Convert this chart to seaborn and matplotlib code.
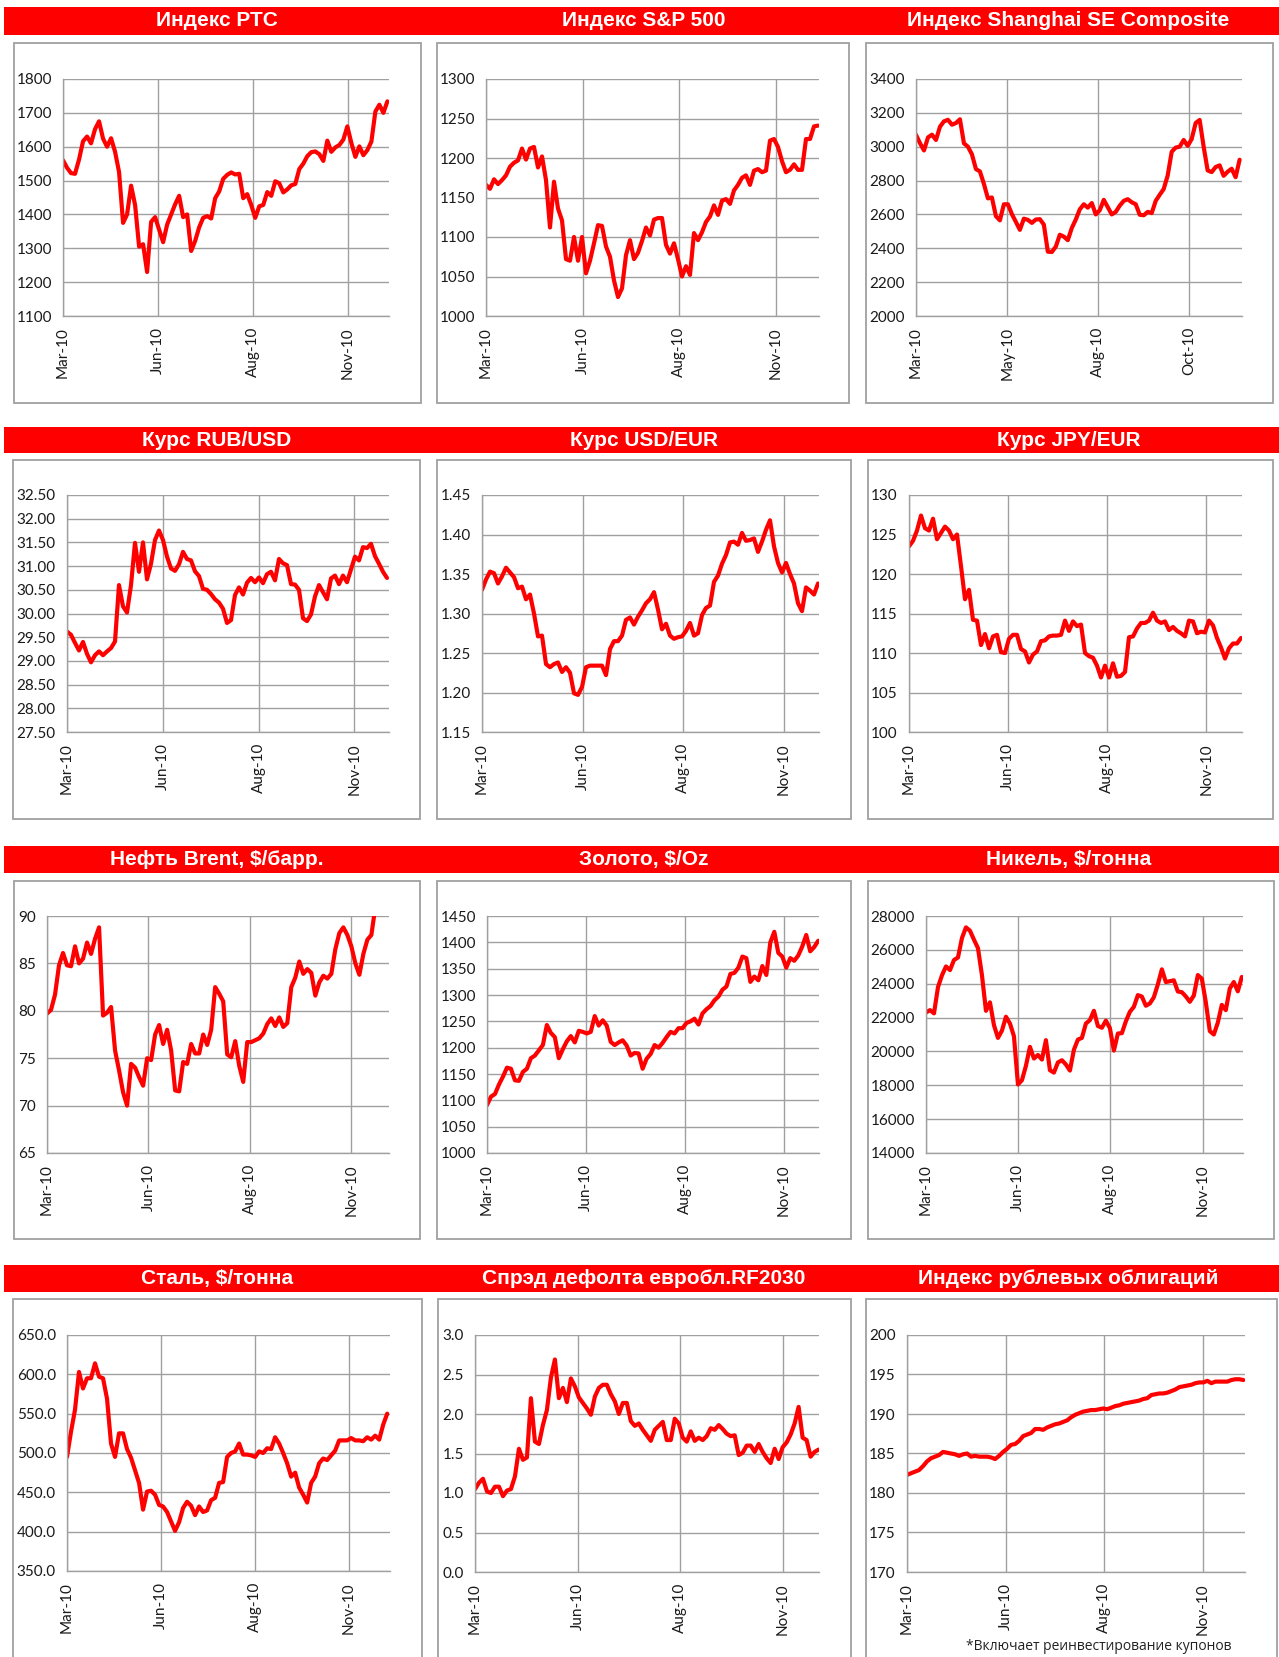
import numpy as np
import matplotlib
matplotlib.use('Agg')
import matplotlib.pyplot as plt
from matplotlib.patches import Rectangle
import seaborn as sns

rts = [1560, 1538, 1522, 1520, 1562, 1616, 1630, 1610, 1652, 1675,
       1624, 1600, 1625, 1585, 1525, 1375, 1400, 1485, 1428, 1305,
       1312, 1230, 1378, 1392, 1355, 1318, 1370, 1400, 1430, 1455,
       1392, 1400, 1292, 1322, 1362, 1390, 1395, 1388, 1448, 1468,
       1505, 1517, 1524, 1518, 1520, 1448, 1460, 1428, 1390, 1424,
       1428, 1466, 1455, 1498, 1492, 1465, 1474, 1486, 1490, 1534,
       1550, 1572, 1584, 1586, 1578, 1558, 1618, 1585, 1598, 1605,
       1621, 1660, 1611, 1570, 1601, 1575, 1590, 1615, 1704, 1724,
       1700, 1734]

sp500 = [1166, 1161, 1173, 1167, 1172, 1178, 1189, 1194, 1197, 1212,
         1198, 1212, 1214, 1188, 1202, 1172, 1112, 1170, 1136, 1121,
         1072, 1070, 1100, 1070, 1100, 1054, 1070, 1092, 1115, 1114,
         1088, 1075, 1045, 1024, 1035, 1077, 1096, 1072, 1080, 1095,
         1112, 1102, 1122, 1124, 1124, 1090, 1079, 1092, 1072, 1050,
         1063, 1052, 1105, 1096, 1106, 1119, 1126, 1140, 1128, 1146,
         1148, 1142, 1159, 1166, 1175, 1178, 1166, 1184, 1186, 1182,
         1184, 1222, 1224, 1214, 1196, 1182, 1185, 1192, 1185, 1185,
         1224, 1224, 1240, 1241]

shanghai = [3070, 3021, 2978, 3055, 3071, 3040, 3118, 3150, 3159, 3130,
            3140, 3162, 3020, 3000, 2955, 2868, 2854, 2780, 2695, 2700,
            2590, 2565, 2660, 2660, 2602, 2556, 2509, 2575, 2568, 2550,
            2570, 2572, 2540, 2380, 2378, 2410, 2480, 2469, 2448, 2520,
            2570, 2630, 2660, 2640, 2667, 2600, 2625, 2686, 2643, 2600,
            2615, 2652, 2680, 2690, 2672, 2660, 2598, 2595, 2615, 2608,
            2680, 2716, 2750, 2830, 2970, 2995, 3000, 3040, 3005, 3045,
            3140, 3158, 3000, 2860, 2850, 2880, 2890, 2828, 2852, 2870,
            2820, 2923]

rub_usd = [29.62, 29.55, 29.38, 29.22, 29.40, 29.15, 28.97, 29.12, 29.20, 29.12,
           29.20, 29.27, 29.41, 30.60, 30.15, 30.02, 30.60, 31.49, 30.88, 31.50,
           30.72, 31.05, 31.55, 31.75, 31.55, 31.20, 30.95, 30.90, 31.04, 31.30,
           31.15, 31.12, 30.89, 30.79, 30.52, 30.50, 30.41, 30.30, 30.23, 30.10,
           29.80, 29.86, 30.39, 30.55, 30.40, 30.65, 30.75, 30.66, 30.76, 30.64,
           30.83, 30.88, 30.70, 31.15, 31.06, 31.02, 30.62, 30.61, 30.50, 29.90,
           29.84, 29.98, 30.36, 30.60, 30.45, 30.30, 30.74, 30.80, 30.62, 30.80,
           30.66, 30.93, 31.20, 31.12, 31.40, 31.38, 31.47, 31.21, 31.05, 30.88,
           30.75]

usd_eur = [1.330, 1.343, 1.353, 1.351, 1.338, 1.347, 1.358, 1.352, 1.346, 1.332,
           1.334, 1.318, 1.324, 1.300, 1.271, 1.272, 1.236, 1.232, 1.236, 1.238,
           1.226, 1.232, 1.225, 1.199, 1.197, 1.207, 1.232, 1.234, 1.234, 1.234,
           1.234, 1.222, 1.255, 1.265, 1.265, 1.272, 1.292, 1.295, 1.286, 1.296,
           1.304, 1.313, 1.318, 1.327, 1.305, 1.280, 1.287, 1.272, 1.268, 1.270,
           1.271, 1.278, 1.288, 1.272, 1.275, 1.298, 1.307, 1.310, 1.340, 1.348,
           1.363, 1.374, 1.390, 1.391, 1.387, 1.402, 1.392, 1.393, 1.395, 1.378,
           1.391, 1.406, 1.418, 1.385, 1.364, 1.352, 1.364, 1.350, 1.338, 1.313,
           1.303, 1.333, 1.329, 1.324, 1.338]

jpy_eur = [123.5, 124.2, 125.5, 127.4, 125.8, 125.5, 127.0, 124.4, 125.2, 126.0,
           125.5, 124.4, 125.0, 121.0, 116.8, 118.0, 114.2, 114.1, 111.0, 112.4,
           110.6, 112.1, 112.3, 110.1, 110.0, 111.8, 112.3, 112.3, 110.5, 110.2,
           108.8, 109.8, 110.2, 111.5, 111.6, 112.1, 112.2, 112.2, 112.3, 114.1,
           112.8, 114.0, 113.4, 113.6, 110.0, 109.6, 109.4, 108.4, 106.9, 108.4,
           106.9, 108.7, 107.0, 107.1, 107.6, 112.0, 112.1, 113.1, 113.8, 113.8,
           114.1, 115.1, 114.1, 113.8, 114.0, 112.9, 113.3, 112.8, 112.5, 112.1,
           114.1, 114.0, 112.5, 112.7, 112.6, 114.1, 113.5, 111.9, 110.7, 109.3,
           110.6, 111.2, 111.2, 111.9]

brent = [79.7, 80.1, 81.7, 84.8, 86.1, 84.8, 84.7, 86.8, 85.0, 85.5,
         87.2, 86.0, 87.6, 88.8, 79.5, 79.8, 80.4, 75.8, 73.7, 71.4,
         70.0, 74.4, 74.0, 73.0, 72.1, 75.0, 74.8, 77.5, 78.5, 76.5,
         78.0, 75.8, 71.6, 71.5, 74.6, 74.4, 76.5, 75.5, 75.5, 77.5,
         76.4, 78.0, 82.5, 81.8, 81.0, 75.4, 75.1, 76.8, 74.2, 72.5,
         76.7, 76.7, 76.9, 77.1, 77.6, 78.6, 79.2, 78.4, 79.3, 78.3,
         78.7, 82.5, 83.5, 85.2, 83.9, 84.4, 84.0, 81.6, 83.0, 83.7,
         83.4, 83.9, 86.5, 88.2, 88.8, 88.0, 86.8, 85.0, 83.8, 86.0,
         87.5, 88.0, 91.0, 91.5, 92.0, 92.5]

gold = [1091, 1107, 1112, 1130, 1145, 1162, 1160, 1138, 1137, 1154,
        1160, 1180, 1185, 1195, 1205, 1243, 1228, 1220, 1180, 1197,
        1212, 1222, 1210, 1232, 1230, 1227, 1230, 1260, 1242, 1252,
        1242, 1211, 1205, 1210, 1214, 1204, 1185, 1190, 1189, 1160,
        1179, 1188, 1205, 1200, 1209, 1220, 1230, 1227, 1237, 1237,
        1247, 1250, 1255, 1244, 1265, 1273, 1279, 1290, 1297, 1310,
        1316, 1340, 1342, 1352, 1373, 1370, 1325, 1335, 1328, 1355,
        1338, 1400, 1420, 1380, 1373, 1352, 1370, 1365, 1375, 1392,
        1414, 1383, 1391, 1403]

nickel = [22300, 22440, 22250, 23800, 24500, 25020, 24805, 25400, 25550, 26700,
          27330, 27130, 26600, 26100, 24500, 22400, 22900, 21552, 20800, 21230,
          22050, 21650, 20900, 18050, 18300, 19150, 20270, 19580, 19790, 19520,
          20664, 18890, 18750, 19350, 19480, 19230, 18870, 20100, 20700, 20800,
          21650, 21850, 22400, 21500, 21400, 21820, 21380, 20050, 21059, 21080,
          21780, 22340, 22636, 23326, 23240, 22700, 22833, 23200, 23960, 24850,
          24100, 24150, 24200, 23540, 23500, 23250, 22932, 23300, 24510, 24300,
          22900, 21200, 21000, 21700, 22750, 22439, 23720, 24100, 23550, 24400]

steel = [495, 527, 555, 603, 582, 595, 595, 614, 597, 595,
         569, 512, 495, 525, 525, 505, 494, 478, 462, 428,
         451, 452, 447, 434, 432, 425, 413, 401, 412, 430,
         438, 433, 421, 432, 425, 427, 440, 443, 462, 463,
         495, 500, 502, 512, 498, 498, 497, 495, 502, 500,
         506, 505, 520, 512, 500, 487, 470, 475, 456, 447,
         437, 462, 470, 487, 493, 491, 497, 503, 516, 516,
         516, 519, 516, 516, 515, 520, 517, 522, 517, 536,
         550]

spread = [1.05, 1.13, 1.18, 1.02, 1.00, 1.08, 1.08, 0.96, 1.03, 1.05,
          1.21, 1.56, 1.42, 1.45, 2.20, 1.65, 1.62, 1.86, 2.05, 2.46,
          2.69, 2.20, 2.33, 2.15, 2.45, 2.35, 2.21, 2.14, 2.07, 1.99,
          2.22, 2.33, 2.37, 2.37, 2.25, 2.16, 2.00, 2.14, 2.14, 1.91,
          1.85, 1.88, 1.80, 1.73, 1.66, 1.80, 1.85, 1.90, 1.67, 1.67,
          1.94, 1.88, 1.70, 1.65, 1.78, 1.66, 1.70, 1.67, 1.72, 1.82,
          1.80, 1.86, 1.81, 1.75, 1.72, 1.73, 1.48, 1.51, 1.60, 1.60,
          1.52, 1.62, 1.52, 1.44, 1.38, 1.56, 1.43, 1.58, 1.64, 1.74,
          1.88, 2.09, 1.70, 1.67, 1.46, 1.52, 1.55]

bonds = [182.3, 182.5, 182.7, 182.9, 183.4, 184.0, 184.4, 184.6, 184.8, 185.2,
         185.1, 185.0, 184.9, 184.7, 184.9, 185.0, 184.6, 184.7, 184.6, 184.6,
         184.6, 184.5, 184.3, 184.7, 185.2, 185.6, 186.1, 186.2, 186.6, 187.2,
         187.4, 187.6, 188.1, 188.1, 188.0, 188.3, 188.5, 188.7, 188.8, 189.0,
         189.2, 189.6, 189.9, 190.1, 190.3, 190.4, 190.5, 190.5, 190.6, 190.7,
         190.6, 190.8, 191.0, 191.1, 191.3, 191.4, 191.5, 191.6, 191.7, 191.9,
         192.0, 192.4, 192.5, 192.6, 192.6, 192.7, 192.9, 193.1, 193.4, 193.5,
         193.6, 193.7, 193.9, 194.0, 194.0, 194.2, 193.9, 194.1, 194.1, 194.1,
         194.1, 194.3, 194.4, 194.4, 194.3]

months_a = ['Mar-10', 'Jun-10', 'Aug-10', 'Nov-10']
months_b = ['Mar-10', 'May-10', 'Aug-10', 'Oct-10']

# layout in pixels of the 1279x1657 canvas
W, H = 1279, 1657
banner_x = [(4, 430), (430, 858), (858, 1279)]
banner_y = [(7, 35), (427, 453), (846, 873), (1265, 1292)]

panels = [
    # title, data, (ymin, ymax, step), label fmt, points per tick, xmax, labels, plot box, frame box
    ('Индекс РТС', rts, (1100, 1800, 100), '{:.0f}', 23.69, 81.4, months_a,
     (63, 79, 389, 316), (14, 43, 421, 403)),
    ('Индекс S&P 500', sp500, (1000, 1300, 50), '{:.0f}', 24.17, 83.25, months_a,
     (486, 79, 819, 316), (437, 43, 849, 403)),
    ('Индекс Shanghai SE Composite', shanghai, (2000, 3400, 200), '{:.0f}', 22.81, 81.6, months_b,
     (916, 79, 1242, 316), (866, 43, 1273, 403)),
    ('Курс RUB/USD', rub_usd, (27.5, 32.5, 0.5), '{:.2f}', 23.94, 80.5, months_a,
     (67, 495, 389, 732), (13, 460, 420, 819)),
    ('Курс USD/EUR', usd_eur, (1.15, 1.45, 0.05), '{:.2f}', 25.17, 84.25, months_a,
     (482, 495, 819, 732), (437, 460, 851, 819)),
    ('Курс JPY/EUR', jpy_eur, (100, 130, 5), '{:.0f}', 24.78, 83.25, months_a,
     (909, 495, 1242, 732), (868, 460, 1273, 819)),
    ('Нефть Brent, $/барр.', brent, (65, 90, 5), '{:.0f}', 25.33, 85.4, months_a,
     (47, 916, 389, 1153), (14, 881, 420, 1239)),
    ('Золото, $/Oz', gold, (1000, 1450, 50), '{:.0f}', 24.81, 83.2, months_a,
     (487, 916, 819, 1153), (437, 881, 851, 1239)),
    ('Никель, $/тонна', nickel, (14000, 28000, 2000), '{:.0f}', 23.06, 79.3, months_a,
     (926, 916, 1243, 1153), (868, 881, 1274, 1239)),
    ('Сталь, $/тонна', steel, (350, 650, 50), '{:.1f}', 23.47, 80.7, months_a,
     (67, 1335, 390, 1571), (13, 1299, 422, 1700)),
    ('Спрэд дефолта евробл.RF2030', spread, (0, 3, 0.5), '{:.1f}', 25.69, 86.1, months_a,
     (475, 1335, 819, 1572), (438, 1299, 851, 1700)),
    ('Индекс рублевых облигаций', bonds, (170, 200, 5), '{:.0f}', 24.64, 84.4, months_a,
     (907, 1335, 1245, 1572), (866, 1299, 1277, 1700)),
]

sns.set_style('white')
plt.rcParams['font.family'] = ['Lato', 'DejaVu Sans']

GRID = '#a0a0a0'
fig = plt.figure(figsize=(W / 100, H / 100), dpi=100)


def fig_box(x0, y0, x1, y1):
    return [x0 / W, 1 - y1 / H, (x1 - x0) / W, (y1 - y0) / H]


for i, (title, vals, yr, fmt, per_tick, xmax, labels, box, frame) in enumerate(panels):
    row, col = divmod(i, 3)

    # grey frame round the chart
    fx, fy, fw, fh = fig_box(*frame)
    fig.patches.append(Rectangle((fx, fy), fw, fh, transform=fig.transFigure,
                                 fill=False, edgecolor=GRID, linewidth=1.3))

    # red title banner
    bx0, bx1 = banner_x[col]
    by0, by1 = banner_y[row]
    rx, ry, rw, rh = fig_box(bx0, by0, bx1, by1)
    fig.patches.append(Rectangle((rx, ry), rw, rh, transform=fig.transFigure,
                                 facecolor='#ff0000', edgecolor='none'))
    fig.text((bx0 + bx1) / 2 / W, 1 - (by0 + by1) / 2 / H, title, color='white',
             fontsize=15, fontweight='bold', family=['Liberation Sans', 'DejaVu Sans'],
             ha='center', va='center')

    ax = fig.add_axes(fig_box(*box))
    sns.lineplot(x=np.arange(len(vals)), y=vals, ax=ax, color='#ff0000', linewidth=3)

    ymin, ymax, ystep = yr
    yt = np.arange(ymin, ymax + ystep / 2, ystep)
    ax.set_ylim(ymin, ymax)
    ax.set_yticks(yt)
    ax.set_yticklabels([fmt.format(v) for v in yt])
    ax.set_xlim(0, xmax)
    ax.set_xticks([k * per_tick for k in range(4)])
    ax.set_xticklabels(labels, rotation=90)
    ax.set_xlabel('')
    ax.set_ylabel('')

    ax.grid(True, color=GRID, linewidth=1)
    ax.set_axisbelow(True)
    for s in ['top', 'right']:
        ax.spines[s].set_visible(False)
    for s in ['left', 'bottom']:
        ax.spines[s].set_color(GRID)
        ax.spines[s].set_linewidth(1)
    ax.tick_params(axis='both', direction='out', length=4, width=1, color=GRID,
                   labelsize=11, labelcolor='#1a1a1a', pad=4)
    ax.set_facecolor('none')

fig.text(1099 / W, 1 - 1647 / H, '*Включает реинвестирование купонов',
         family=['Open Sans', 'DejaVu Sans'], fontsize=10, color='#222222',
         ha='center', va='center')

fig.savefig('out.png', dpi=100)
